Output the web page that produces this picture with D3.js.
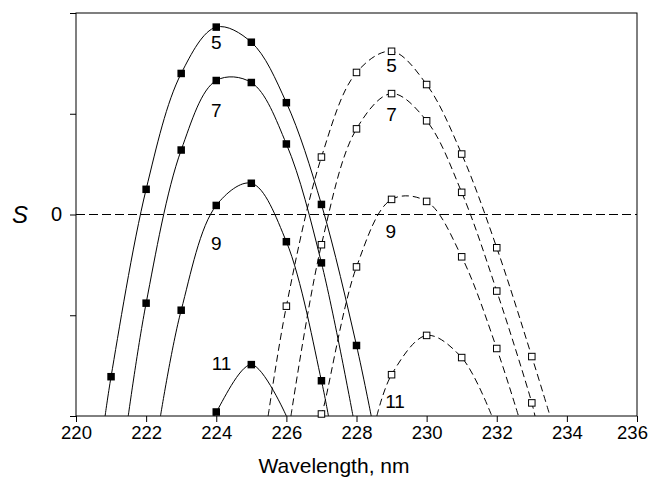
<!DOCTYPE html>
<html>
<head>
<meta charset="utf-8">
<script src="https://cdn.jsdelivr.net/npm/d3@7"></script>
<style>
  body { margin: 0; background: #fff; }
  text { font-family: Arial, "Liberation Sans", sans-serif; fill: #000; }
</style>
</head>
<body>
<div id="chart"></div>
<script>
// wavelengths (nm) of the measured points
const filledX = [
  [221, 222, 223, 224, 225, 226, 227, 228],
  [222, 223, 224, 225, 226, 227],
  [223, 224, 225, 226, 227],
  [224, 225]
];
const filledY = [
  [-1.61, 0.25, 1.40, 1.86, 1.71, 1.11, 0.10, -1.30],
  [-0.88, 0.64, 1.33, 1.31, 0.70, -0.48],
  [-0.95, 0.09, 0.31, -0.27, -1.65],
  [-1.96, -1.49]
];
// where the fitted curves leave the bottom of the frame
const filledEnds = [[220.83, 228.42], [221.49, 227.9], [222.41, 227.2], [223.93, 226.0]];

const openX = [
  [226, 227, 228, 229, 230, 231, 232, 233],
  [227, 228, 229, 230, 231, 232, 233],
  [227, 228, 229, 230, 231, 232],
  [229, 230, 231]
];
const openY = [
  [-0.91, 0.57, 1.41, 1.62, 1.29, 0.60, -0.33, -1.41],
  [-0.30, 0.85, 1.20, 0.93, 0.22, -0.76, -1.87],
  [-1.98, -0.52, 0.15, 0.13, -0.42, -1.33],
  [-1.59, -1.20, -1.42]
];
const openEnds = [[225.48, 233.52], [226.13, 233.09], [226.95, 232.62], [228.58, 231.86]];

const seriesNames = ["5", "7", "9", "11"];
const filledLabelPos = [[224.0, 1.715], [224.0, 1.032], [224.0, -0.283], [224.15, -1.48]];
const openLabelPos = [[229.0, 1.484], [229.0, 0.998], [228.98, -0.161], [229.1, -1.854]];

const xTicks = [220, 222, 224, 226, 228, 230, 232, 234, 236];
const yTicks = [-2, -1, 0, 1, 2];

const breedte = 650, hoogte = 477;
const rand = { links: 76, rechts: 13, boven: 13, beneden: 61 };

const svg = d3.select("#chart").append("svg")
  .attr("width", breedte)
  .attr("height", hoogte);

const x = d3.scaleLinear().domain([220, 236]).range([rand.links, breedte - rand.rechts]);
const y = d3.scaleLinear().domain([-2, 2]).range([hoogte - rand.beneden, rand.boven]);

svg.append("clipPath").attr("id", "plot")
  .append("rect")
  .attr("x", x(220)).attr("y", y(2))
  .attr("width", x(236) - x(220)).attr("height", y(-2) - y(2));

// zero line
svg.append("line")
  .attr("x1", x(220)).attr("x2", x(236))
  .attr("y1", y(0)).attr("y2", y(0))
  .attr("stroke", "#000").attr("stroke-width", 1)
  .attr("stroke-dasharray", "9,4");

const lijn = d3.line()
  .x(d => x(d[0]))
  .y(d => y(d[1]))
  .curve(d3.curveCatmullRom.alpha(0.5));

function punten(xs, ys, ends) {
  const p = xs.map((v, i) => [v, ys[i]]);
  if (ends[0] < xs[0]) p.unshift([ends[0], -2]);
  if (ends[1] > xs[xs.length - 1]) p.push([ends[1], -2]);
  return p;
}

const curves = svg.append("g").attr("clip-path", "url(#plot)");

filledX.forEach((xs, i) => {
  curves.append("path")
    .attr("d", lijn(punten(xs, filledY[i], filledEnds[i])))
    .attr("fill", "none").attr("stroke", "#000").attr("stroke-width", 1);
});
openX.forEach((xs, i) => {
  curves.append("path")
    .attr("d", lijn(punten(xs, openY[i], openEnds[i])))
    .attr("fill", "none").attr("stroke", "#000").attr("stroke-width", 1)
    .attr("stroke-dasharray", "7,4");
});

// frame
svg.append("rect")
  .attr("x", x(220)).attr("y", y(2))
  .attr("width", x(236) - x(220)).attr("height", y(-2) - y(2))
  .attr("fill", "none").attr("stroke", "#000").attr("stroke-width", 1);

// markers
const s = 7.5;
filledX.forEach((xs, i) => {
  svg.append("g").selectAll("rect")
    .data(xs.map((v, j) => [v, filledY[i][j]]))
    .join("rect")
    .attr("x", d => x(d[0]) - s / 2)
    .attr("y", d => y(d[1]) - s / 2)
    .attr("width", s).attr("height", s)
    .attr("fill", "#000");
});
openX.forEach((xs, i) => {
  svg.append("g").selectAll("rect")
    .data(xs.map((v, j) => [v, openY[i][j]]))
    .join("rect")
    .attr("x", d => x(d[0]) - s / 2 + 0.5)
    .attr("y", d => y(d[1]) - s / 2 + 0.5)
    .attr("width", s - 1).attr("height", s - 1)
    .attr("fill", "#fff").attr("stroke", "#000").attr("stroke-width", 1);
});

// curve labels
svg.append("g").selectAll("text")
  .data(filledLabelPos.concat(openLabelPos))
  .join("text")
  .attr("x", d => x(d[0]))
  .attr("y", d => y(d[1]))
  .attr("dy", "0.36em")
  .attr("text-anchor", "middle")
  .style("font-size", "19px")
  .text((d, i) => seriesNames[i % 4]);

// axes
const xAxis = svg.append("g")
  .attr("transform", `translate(0,${y(-2)})`)
  .call(d3.axisBottom(x).tickValues(xTicks).tickSize(6).tickPadding(4).tickFormat(d3.format("d")));
xAxis.select(".domain").remove();
xAxis.selectAll("text").style("font-size", "18.5px").style("font-family", "Arial, 'Liberation Sans', sans-serif");
// last label pulled in so it stays inside the picture
xAxis.selectAll(".tick").filter(d => d === 236).select("text").attr("dx", -5);

const yAxis = svg.append("g")
  .attr("transform", `translate(${x(220)},0)`)
  .call(d3.axisLeft(y).tickValues(yTicks).tickSize(6).tickPadding(8)
    .tickFormat(d => d === 0 ? "0" : ""));
yAxis.select(".domain").remove();
yAxis.selectAll("text").style("font-size", "20px").style("font-family", "Arial, 'Liberation Sans', sans-serif");

svg.append("text")
  .attr("x", 334).attr("y", 473)
  .attr("text-anchor", "middle")
  .style("font-size", "21px")
  .text("Wavelength, nm");

svg.append("text")
  .attr("x", 20).attr("y", y(0))
  .attr("dy", "0.36em")
  .attr("text-anchor", "middle")
  .style("font-size", "24px")
  .style("font-style", "italic")
  .text("S");
</script>
</body>
</html>
